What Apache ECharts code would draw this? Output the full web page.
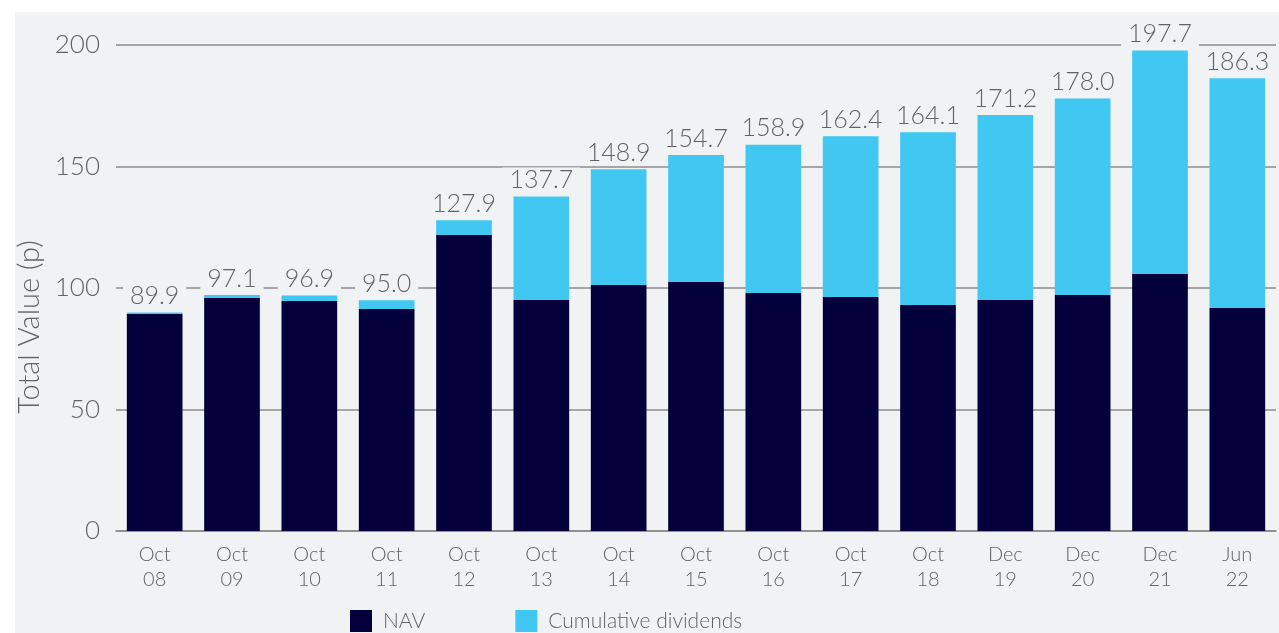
<!DOCTYPE html>
<html><head><meta charset="utf-8">
<script src="https://cdn.jsdelivr.net/npm/echarts@6/dist/echarts.min.js"></script>
<style>html,body{margin:0;padding:0;background:#fff;}#c{width:1279px;height:633px;}</style>
</head><body><div id="c"></div>
<script>
const categories = ['Oct\n08','Oct\n09','Oct\n10','Oct\n11','Oct\n12','Oct\n13','Oct\n14','Oct\n15','Oct\n16','Oct\n17','Oct\n18','Dec\n19','Dec\n20','Dec\n21','Jun\n22'];
const totals = [89.9, 97.1, 96.9, 95.0, 127.9, 137.7, 148.9, 154.7, 158.9, 162.4, 164.1, 171.2, 178.0, 197.7, 186.3];
const nav = [89.4, 95.9, 94.7, 91.4, 121.8, 95.1, 101.2, 102.5, 97.9, 96.3, 93.0, 95.1, 97.1, 105.8, 91.8];
const dividends = [0.5, 1.2, 2.2, 3.6, 6.1, 42.6, 47.7, 52.2, 61.0, 66.1, 71.1, 76.1, 80.9, 91.9, 94.5];
const yTicks = [0, 50, 100, 150, 200];

const BG = '#f1f2f4';
const FONT = 'Lato';
const TXT = '#636363';
const FW = 300;
const chart = echarts.init(document.getElementById('c'), null, {renderer: 'canvas'});
chart.setOption({
  backgroundColor: '#ffffff',
  textStyle: {fontFamily: FONT},
  graphic: [{type: 'rect', z: -10, silent: true, shape: {x: 15, y: 12, width: 1264, height: 621}, style: {fill: BG}}],
  legend: {
    left: 345, top: 605, itemWidth: 22, itemHeight: 22, itemGap: 90,
    icon: 'rect',
    textStyle: {fontFamily: FONT, fontSize: 21, fontWeight: FW, color: TXT, padding: [0, 0, 0, 6]},
    data: ['NAV', 'Cumulative dividends']
  },
  grid: {left: 116, right: 3, top: 45, bottom: 102},
  xAxis: {
    type: 'category', data: categories,
    axisLine: {lineStyle: {color: '#8c8c8c', width: 1.5}},
    axisTick: {show: false},
    axisLabel: {fontFamily: FONT, fontSize: 20, fontWeight: FW, color: TXT, lineHeight: 25, margin: 11}
  },
  yAxis: {
    type: 'value', min: yTicks[0], max: yTicks[yTicks.length-1], interval: 50,
    name: 'Total Value (p)', nameLocation: 'middle', nameGap: 68,
    nameTextStyle: {fontFamily: FONT, fontSize: 29, fontWeight: FW, color: TXT, padding: [0, 78, 0, 0]},
    axisLine: {show: false}, axisTick: {show: false},
    axisLabel: {fontFamily: FONT, fontSize: 26, fontWeight: FW, color: TXT, margin: 16},
    splitLine: {lineStyle: {color: '#8c8c8c', width: 1.5}}
  },
  series: [
    {name: 'NAV', type: 'bar', stack: 't', data: nav, barWidth: '72%',
     itemStyle: {color: '#03003c'}},
    {name: 'Cumulative dividends', type: 'bar', stack: 't', data: dividends, barWidth: '72%',
     itemStyle: {color: '#40c7f2'},
     label: {show: true, position: 'top', distance: 4,
       formatter: p => totals[p.dataIndex].toFixed(1),
       fontFamily: FONT, fontSize: 25, fontWeight: FW, color: TXT,
       backgroundColor: BG, padding: [0, 7, 0, 7]}}
  ]
});
</script></body></html>
